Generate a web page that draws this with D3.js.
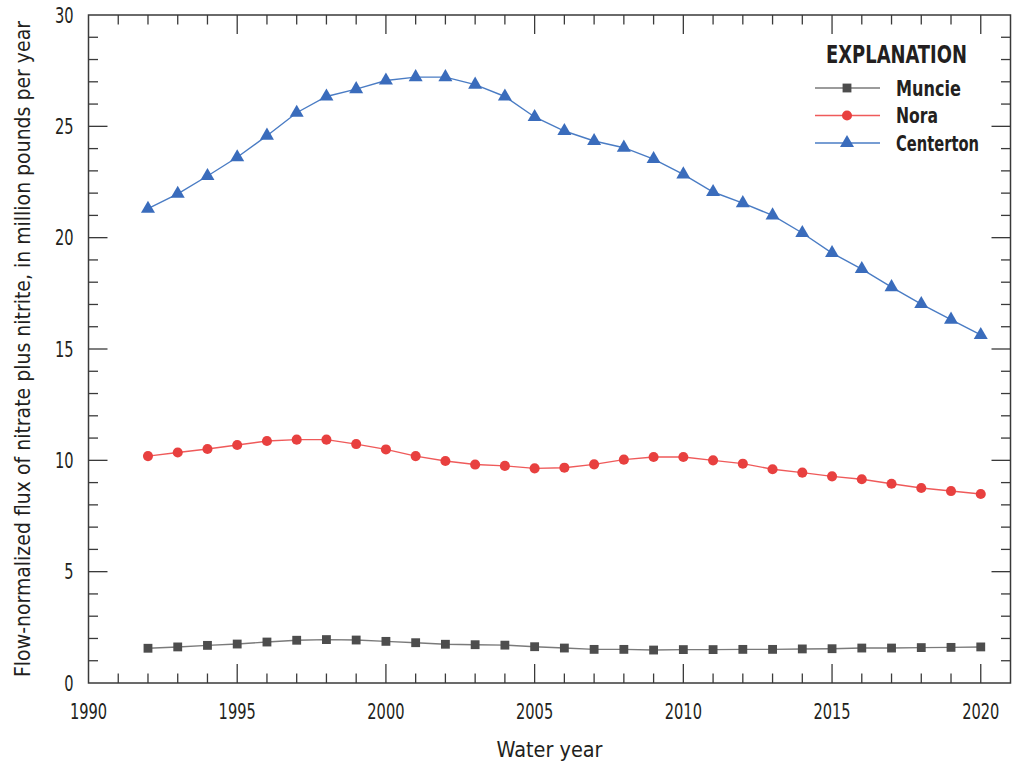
<!DOCTYPE html>
<html>
<head>
<meta charset="utf-8">
<script src="https://cdn.jsdelivr.net/npm/d3@7/dist/d3.min.js"></script>
<style>
  body { margin: 0; background: #fff; }
  svg text { font-family: "Liberation Sans Narrow", "Arial Narrow", "DejaVu Sans Condensed", sans-serif; fill: #231f20; }
</style>
</head>
<body>
<div id="chart"></div>
<script>
var years = d3.range(1992, 2021)
var muncie = [1.56, 1.62, 1.69, 1.75, 1.84, 1.92, 1.95, 1.93, 1.87, 1.81,
              1.74, 1.72, 1.70, 1.63, 1.57, 1.51, 1.51, 1.48, 1.50, 1.50,
              1.51, 1.51, 1.53, 1.54, 1.57, 1.57, 1.59, 1.60, 1.62]
var nora = [10.19, 10.35, 10.51, 10.69, 10.87, 10.93, 10.93, 10.73, 10.49, 10.19,
            9.97, 9.81, 9.75, 9.64, 9.67, 9.82, 10.03, 10.15, 10.15, 10.00,
            9.85, 9.60, 9.45, 9.28, 9.15, 8.95, 8.76, 8.62, 8.49]
var centerton = [21.30, 21.97, 22.77, 23.61, 24.58, 25.61, 26.34, 26.67, 27.06, 27.21,
                 27.21, 26.87, 26.34, 25.42, 24.79, 24.34, 24.04, 23.53, 22.84, 22.05,
                 21.55, 21.00, 20.21, 19.31, 18.59, 17.78, 17.02, 16.32, 15.63]
var seriesNames = ["Muncie", "Nora", "Centerton"]
var xTickLabels = [1990, 1995, 2000, 2005, 2010, 2015, 2020]
var yTickLabels = [0, 5, 10, 15, 20, 25, 30]

var width = 1017, height = 767
var margin = { top: 15, left: 88.5, bottom: 84, right: 6.5 }
var chartW = width - margin.left - margin.right
var chartH = height - margin.top - margin.bottom

var styles = {
  Muncie:    { line: "#7a7a7a", mark: "#4d4d4d", shape: d3.symbolSquare,   size: 78, legW: 65 },
  Nora:      { line: "#ef5a5a", mark: "#e8403f", shape: d3.symbolCircle,   size: 80, legW: 42 },
  Centerton: { line: "#4a7cc4", mark: "#3a6cbc", shape: d3.symbolTriangle, size: 85, legW: 83 }
}
var DIGIT_W = 9.3 // condensed digit width in the original

var svg = d3.select("#chart").append("svg")
    .attr("width", width).attr("height", height)
var g = svg.append("g").attr("transform", "translate(" + [margin.left, margin.top] + ")")

var x = d3.scaleLinear().domain([1990, 2021]).range([0, chartW])
var y = d3.scaleLinear().domain([0, 30]).range([chartH, 0])

// frame ticks: major (labelled) long, minor short, all pointing inward
var xMinor = d3.range(1991, 2021).filter(function(d) { return d % 5 != 0 })
var xMajor = xTickLabels.filter(function(d) { return d > 1990 })
var yMinor = d3.range(1, 30).filter(function(d) { return d % 5 != 0 })
var yMajor = [5, 10, 15, 20, 25]
var MAJ = 19, MIN = 9.5
var tickColor = "#3a3a3a"

function tickLines(data, fn) {
  g.append("g").selectAll("line").data(data).enter().append("line")
    .attr("stroke", tickColor).attr("stroke-width", 1.3)
    .each(fn)
}
tickLines(xMajor, function(d) { d3.select(this).attr("x1", x(d)).attr("x2", x(d)).attr("y1", chartH).attr("y2", chartH - MAJ) })
tickLines(xMinor, function(d) { d3.select(this).attr("x1", x(d)).attr("x2", x(d)).attr("y1", chartH).attr("y2", chartH - MIN) })
tickLines(xMajor, function(d) { d3.select(this).attr("x1", x(d)).attr("x2", x(d)).attr("y1", 0).attr("y2", MAJ) })
tickLines(xMinor, function(d) { d3.select(this).attr("x1", x(d)).attr("x2", x(d)).attr("y1", 0).attr("y2", MIN) })
tickLines(yMajor, function(d) { d3.select(this).attr("y1", y(d)).attr("y2", y(d)).attr("x1", 0).attr("x2", MAJ) })
tickLines(yMinor, function(d) { d3.select(this).attr("y1", y(d)).attr("y2", y(d)).attr("x1", 0).attr("x2", MIN) })
tickLines(yMajor, function(d) { d3.select(this).attr("y1", y(d)).attr("y2", y(d)).attr("x1", chartW).attr("x2", chartW - MAJ) })
tickLines(yMinor, function(d) { d3.select(this).attr("y1", y(d)).attr("y2", y(d)).attr("x1", chartW).attr("x2", chartW - MIN) })

g.append("rect")
    .attr("width", chartW).attr("height", chartH)
    .attr("fill", "none").attr("stroke", tickColor).attr("stroke-width", 1.5)

// tick labels (squeezed to the narrow face of the original)
g.append("g").selectAll("text").data(xTickLabels).enter().append("text")
    .attr("x", function(d) { return x(d) })
    .attr("y", chartH + 36)
    .attr("text-anchor", "middle")
    .attr("font-size", 21.5)
    .attr("textLength", function(d) { return String(d).length * DIGIT_W })
    .attr("lengthAdjust", "spacingAndGlyphs")
    .text(function(d) { return d })

g.append("g").selectAll("text").data(yTickLabels).enter().append("text")
    .attr("x", -15)
    .attr("y", function(d) { return y(d) })
    .attr("dy", "0.35em")
    .attr("text-anchor", "end")
    .attr("font-size", 21.5)
    .attr("textLength", function(d) { return String(d).length * DIGIT_W })
    .attr("lengthAdjust", "spacingAndGlyphs")
    .text(function(d) { return d })

// axis titles
svg.append("text")
    .attr("x", margin.left + chartW / 2).attr("y", 757)
    .attr("text-anchor", "middle").attr("font-size", 22)
    .attr("textLength", 106).attr("lengthAdjust", "spacingAndGlyphs")
    .text("Water year")

svg.append("text")
    .attr("transform", "translate(30," + (margin.top + chartH / 2) + ") rotate(-90)")
    .attr("text-anchor", "middle").attr("font-size", 21)
    .attr("textLength", 656).attr("lengthAdjust", "spacingAndGlyphs")
    .text("Flow-normalized flux of nitrate plus nitrite, in million pounds per year")

// series
var seriesData = { Muncie: muncie, Nora: nora, Centerton: centerton }
var line = d3.line()
    .x(function(d) { return x(d[0]) })
    .y(function(d) { return y(d[1]) })

seriesNames.forEach(function(name) {
  var pts = years.map(function(yr, i) { return [yr, seriesData[name][i]] })
  var st = styles[name]
  g.append("path").datum(pts)
    .attr("fill", "none").attr("stroke", st.line).attr("stroke-width", 1.4)
    .attr("d", line)
  g.append("g").selectAll("path").data(pts).enter().append("path")
    .attr("d", d3.symbol().type(st.shape).size(st.size))
    .attr("fill", st.mark)
    .attr("transform", function(d) { return "translate(" + x(d[0]) + "," + y(d[1]) + ")" })
})

// legend
var legend = svg.append("g").attr("transform", "translate(815,0)")
legend.append("text")
    .attr("x", 11).attr("y", 63)
    .attr("font-size", 24).attr("font-weight", "bold")
    .attr("textLength", 141).attr("lengthAdjust", "spacingAndGlyphs")
    .text("EXPLANATION")

var rows = legend.selectAll("g.row").data(seriesNames).enter().append("g")
    .attr("class", "row")
    .attr("transform", function(d, i) { return "translate(0," + (88 + i * 27.5) + ")" })
rows.append("line")
    .attr("x1", 0).attr("x2", 65)
    .attr("stroke", function(d) { return styles[d].line }).attr("stroke-width", 1.4)
rows.append("path")
    .attr("d", function(d) { return d3.symbol().type(styles[d].shape).size(styles[d].size)() })
    .attr("fill", function(d) { return styles[d].mark })
    .attr("transform", "translate(32,0)")
rows.append("text")
    .attr("x", 81).attr("dy", "0.36em")
    .attr("font-size", 21).attr("font-weight", "bold")
    .attr("textLength", function(d) { return styles[d].legW }).attr("lengthAdjust", "spacingAndGlyphs")
    .text(function(d) { return d })
</script>
</body>
</html>
